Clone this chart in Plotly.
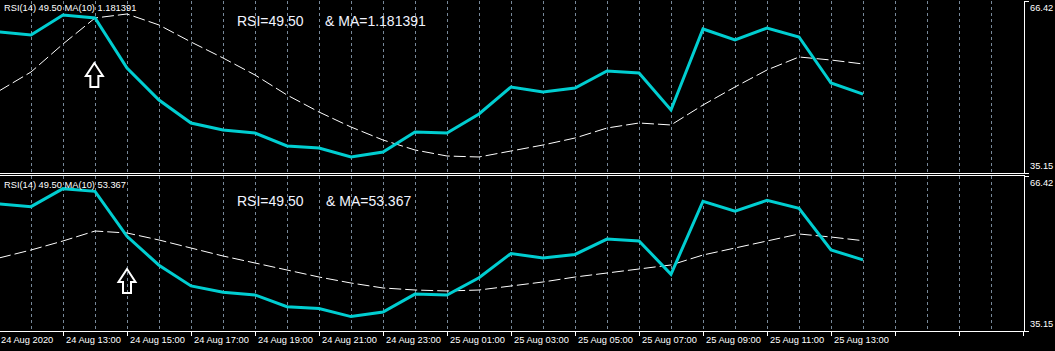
import plotly.graph_objects as go

# hourly bars, index 0 = 24 Aug 2020 11:00
hours = list(range(28))

# RSI(14) values
rsi = [60.78, 60.24, 63.87, 63.33, 54.24, 48.42, 44.24, 42.97, 42.42, 40.06,
       39.70, 38.06, 38.97, 42.60, 42.42, 45.88, 50.79, 49.88, 50.60, 53.69,
       53.33, 46.60, 61.33, 59.33, 61.51, 59.88, 51.51, 49.50]

# MA(10) on price, as drawn inside the upper pane (pane units)
ma_price_pane = [50.06, 53.51, 58.60, 63.33, 64.06, 62.06, 58.97, 56.06, 52.97, 49.33,
                 46.24, 43.51, 41.15, 39.33, 38.24, 38.06, 39.15, 40.24, 41.51, 43.33,
                 44.24, 43.88, 47.51, 50.79, 53.88, 56.24, 55.69, 54.97]

# MA(10) of RSI (lower pane)
ma_rsi = [49.88, 51.49, 53.31, 55.32, 54.92, 53.51, 51.89, 50.28, 48.87, 47.46,
          46.04, 44.83, 43.83, 43.42, 43.22, 43.42, 44.23, 45.04, 46.04, 46.85,
          47.66, 48.47, 50.48, 51.89, 53.31, 54.72, 54.11, 53.37]

tick_pos = [0, 2, 4, 6, 8, 10, 12, 14, 16, 18, 20, 22, 24, 26]
tick_text = ["24 Aug 2020", "24 Aug 13:00", "24 Aug 15:00", "24 Aug 17:00", "24 Aug 19:00",
             "24 Aug 21:00", "24 Aug 23:00", "25 Aug 01:00", "25 Aug 03:00", "25 Aug 05:00",
             "25 Aug 07:00", "25 Aug 09:00", "25 Aug 11:00", "25 Aug 13:00"]

y_min, y_max = 35.15, 66.42
top_label = "RSI(14) 49.50 MA(10) 1.181391"
bot_label = "RSI(14) 49.50 MA(10) 53.367"
top_rsi_txt, top_ma_txt = "RSI=49.50", "& MA=1.181391"
bot_rsi_txt, bot_ma_txt = "RSI=49.50", "& MA=53.367"

CYAN = "#00CED1"
GRID = "#778899"
FONT = "Liberation Sans, Arial, sans-serif"

fig = go.Figure()
fig.add_trace(go.Scatter(x=hours, y=ma_price_pane, mode="lines", xaxis="x", yaxis="y",
                         line=dict(color="white", width=1, dash="12px,4px"), hoverinfo="skip"))
fig.add_trace(go.Scatter(x=hours, y=rsi, mode="lines", xaxis="x", yaxis="y",
                         line=dict(color=CYAN, width=3), hoverinfo="skip"))
fig.add_trace(go.Scatter(x=hours, y=ma_rsi, mode="lines", xaxis="x2", yaxis="y2",
                         line=dict(color="white", width=1, dash="12px,4px"), hoverinfo="skip"))
fig.add_trace(go.Scatter(x=hours, y=rsi, mode="lines", xaxis="x2", yaxis="y2",
                         line=dict(color=CYAN, width=3), hoverinfo="skip"))

W, H = 1055, 351
ml, mr, mt, mb = 0, 31, 1, 20
ph = H - mt - mb
top_dom = [(ph - 172) / ph, 1.0]
bot_dom = [0.0, 155 / ph]
xr = [1 / 32, 1025 / 32]
grid_vals = list(range(1, 33))

fig.update_layout(
    width=W, height=H, margin=dict(l=ml, r=mr, t=mt, b=mb),
    paper_bgcolor="black", plot_bgcolor="black", showlegend=False,
    font=dict(family=FONT, color="white", size=9.3),
    xaxis=dict(domain=[0, 1], anchor="y", range=xr, tickmode="array", tickvals=grid_vals,
               showticklabels=False, ticks="", showgrid=True, gridcolor=GRID, gridwidth=1,
               griddash="3px,3px", showline=True, linecolor="white", linewidth=1,
               zeroline=False, fixedrange=True),
    yaxis=dict(domain=top_dom, anchor="x", side="right", range=[y_min, y_max],
               tickmode="array", tickvals=[y_min, y_max], showticklabels=False,
               ticks="outside", ticklen=4, tickcolor="white", showgrid=False,
               showline=True, linecolor="white", linewidth=1, zeroline=False),
    xaxis2=dict(domain=[0, 1], anchor="y2", range=xr, tickmode="array", tickvals=tick_pos[1:] + [28, 30, 32],
                showticklabels=False, ticks="outside", ticklen=4, tickcolor="white",
                showgrid=True, gridcolor=GRID, gridwidth=1, griddash="3px,3px",
                minor=dict(tickmode="array", tickvals=[v for v in grid_vals if v % 2 == 1],
                           showgrid=True, gridcolor=GRID, gridwidth=1, griddash="3px,3px", ticks=""),
                showline=True, mirror=True, linecolor="white", linewidth=1, zeroline=False),
    yaxis2=dict(domain=bot_dom, anchor="x2", side="right", range=[y_min, y_max],
                tickmode="array", tickvals=[y_min, y_max], showticklabels=False,
                ticks="outside", ticklen=4, tickcolor="white", showgrid=False,
                showline=True, linecolor="white", linewidth=1, zeroline=False),
)

ann = []
for p, t in zip(tick_pos, tick_text):
    xp = max((p - xr[0]) / (xr[1] - xr[0]), 0)
    ann.append(dict(x=xp, y=0, xref="paper", yref="paper", text=t, showarrow=False,
                    xanchor="left", yanchor="top", xshift=1 if p else -1, yshift=-2,
                    font=dict(family=FONT, size=9.3, color="white")))
# price-scale labels
for ytxt, yp, ya in [("66.42", top_dom[1], "top"), ("35.15", top_dom[0], "bottom"),
                     ("66.42", bot_dom[1], "top"), ("35.15", bot_dom[0], "bottom")]:
    ann.append(dict(x=1, y=yp, xref="paper", yref="paper", text=ytxt, showarrow=False,
                    xanchor="left", yanchor=ya, xshift=4,
                    font=dict(family=FONT, size=9.3, color="white")))
# indicator captions
ann.append(dict(x=0, y=top_dom[1], xref="paper", yref="paper", text=top_label, showarrow=False,
                xanchor="left", yanchor="top", xshift=2, yshift=0,
                font=dict(family=FONT, size=9.3, color="white")))
ann.append(dict(x=0, y=bot_dom[1], xref="paper", yref="paper", text=bot_label, showarrow=False,
                xanchor="left", yanchor="top", xshift=2, yshift=-2,
                font=dict(family=FONT, size=9.3, color="white")))
# big comment texts
for txt, xp, yp in [(top_rsi_txt, 235, 21), (top_ma_txt, 323, 21),
                    (bot_rsi_txt, 235, 201), (bot_ma_txt, 324, 201)]:
    ann.append(dict(x=xp / 1024, y=(H - mb - yp) / ph, xref="paper", yref="paper", text=txt,
                    showarrow=False, xanchor="left", yanchor="middle",
                    font=dict(family=FONT, size=14, color="#f2f4ff")))
fig.update_layout(annotations=ann)

arrow_path = "M-4,0 L-4,11 L-8.5,11 L0,24 L8.5,11 L4,11 L4,0 Z"
fig.add_shape(type="path", xref="x", yref="y", xsizemode="pixel", ysizemode="pixel",
              xanchor=2.98, yanchor=50.79, path=arrow_path,
              line=dict(color="white", width=2), fillcolor="black", layer="above")
fig.add_shape(type="path", xref="x2", yref="y2", xsizemode="pixel", ysizemode="pixel",
              xanchor=4.0, yanchor=42.82, path=arrow_path,
              line=dict(color="white", width=2), fillcolor="rgba(0,0,0,0)", layer="above")

fig.write_html("out.html", config={"displayModeBar": False})
